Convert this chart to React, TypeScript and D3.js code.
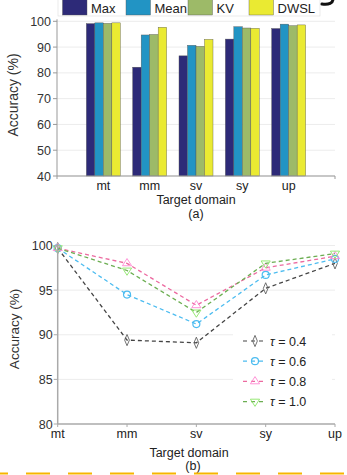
import * as d3 from "d3";
import React, { useRef, useEffect } from "react";

const domains = ["mt", "mm", "sv", "sy", "up"];
const methods = ["Max", "Mean", "KV", "DWSL"];
const methodColors = ["#2d2a78", "#2294c4", "#9dba68", "#eaea32"];
const maxVals = [99.1, 82.2, 86.6, 93.1, 97.2];
const meanVals = [99.4, 94.7, 90.7, 97.9, 98.9];
const kvVals = [99.2, 94.9, 90.3, 97.4, 98.3];
const dwslVals = [99.4, 97.7, 93.0, 97.3, 98.6];
const barTicks = [40, 50, 60, 70, 80, 90, 100];

const tauLabels = ["0.4", "0.6", "0.8", "1.0"];
const tauColors = ["#444444", "#4cbcf0", "#ec6aa0", "#6cae52"];
const tauMarkers = ["diamond", "circle", "up", "down"];
const tau04 = [99.7, 89.4, 89.1, 95.2, 98.0];
const tau06 = [99.7, 94.5, 91.2, 96.7, 98.5];
const tau08 = [99.7, 98.0, 93.3, 97.5, 98.8];
const tau10 = [99.7, 97.2, 92.5, 98.0, 99.1];
const lineTicks = [80, 85, 90, 95, 100];

const FONT = "Liberation Sans, Arial, sans-serif";

function App() {
  const ref = useRef(null);

  useEffect(() => {
    const svg = d3.select(ref.current);
    svg.selectAll("*").remove();
    svg.append("rect").attr("width", 347).attr("height", 475).attr("fill", "#fff");
    drawBars(svg);
    drawLines(svg);

    // bottom orange dashed rule
    svg.append("line")
      .attr("x1", -16).attr("x2", 347).attr("y1", 473.5).attr("y2", 473.5)
      .attr("stroke", "#f7b500").attr("stroke-width", 2)
      .attr("stroke-dasharray", "24 18");
    // tail of a cropped glyph from the title above
    svg.append("path").attr("d", "M333,-1 C333,3 329,5 322,4")
      .attr("fill", "none").attr("stroke", "#111").attr("stroke-width", 3)
      .attr("stroke-linecap", "round");
  }, []);

  const drawBars = (svg) => {
    const left = 57, right = 335, top = 21.3, bottom = 176;
    const x = d3.scalePoint().domain(domains).range([left, right]).padding(1);
    const y = d3.scaleLinear().domain([40, 100]).range([bottom, top]);
    const g = svg.append("g");

    g.selectAll(".grid").data(barTicks).enter().append("line")
      .attr("x1", left).attr("x2", right)
      .attr("y1", (d) => y(d)).attr("y2", (d) => y(d))
      .attr("stroke", "#ececec").attr("stroke-width", 1);

    const series = [maxVals, meanVals, kvVals, dwslVals];
    const bw = 8.5;
    const inner = d3.scaleBand().domain(methods).range([-bw * 2, bw * 2]);
    series.forEach((vals, i) => {
      g.selectAll(".bar" + i).data(vals).enter().append("rect")
        .attr("x", (d, j) => x(domains[j]) + inner(methods[i]))
        .attr("y", (d) => y(d))
        .attr("width", inner.bandwidth())
        .attr("height", (d) => y(40) - y(d))
        .attr("fill", methodColors[i])
        .attr("stroke", "#555").attr("stroke-width", 0.4);
    });

    // axes
    g.append("line").attr("x1", left).attr("x2", left).attr("y1", top - 2).attr("y2", bottom)
      .attr("stroke", "#999");
    g.append("line").attr("x1", left).attr("x2", right).attr("y1", bottom).attr("y2", bottom)
      .attr("stroke", "#999");
    [left, right].forEach((xx) => {
      g.append("line").attr("x1", xx).attr("x2", xx).attr("y1", bottom).attr("y2", bottom + 3)
        .attr("stroke", "#999");
    });
    g.selectAll(".yt").data(barTicks).enter().append("line")
      .attr("x1", left - 4).attr("x2", left)
      .attr("y1", (d) => y(d)).attr("y2", (d) => y(d)).attr("stroke", "#999");
    g.selectAll(".yl").data(barTicks).enter().append("text")
      .attr("x", left - 6).attr("y", (d) => y(d) + 4.5)
      .attr("text-anchor", "end").attr("font-family", FONT).attr("font-size", 12.5)
      .attr("fill", "#333").text((d) => d);
    g.selectAll(".xl").data(domains).enter().append("text")
      .attr("x", (d) => x(d)).attr("y", 189.5)
      .attr("text-anchor", "middle").attr("font-family", FONT).attr("font-size", 12.5)
      .attr("fill", "#222").text((d) => d);
    g.append("text").attr("x", 196).attr("y", 204).attr("text-anchor", "middle")
      .attr("font-family", FONT).attr("font-size", 12.5).attr("fill", "#222").text("Target domain");
    g.append("text").attr("x", 196).attr("y", 217.5).attr("text-anchor", "middle")
      .attr("font-family", FONT).attr("font-size", 12.5).attr("fill", "#222").text("(a)");
    g.append("text").attr("transform", "translate(18,95)rotate(-90)").attr("text-anchor", "middle")
      .attr("font-family", FONT).attr("font-size", 14).attr("fill", "#333").text("Accuracy (%)");

    // legend
    const lx = [62.5, 126, 188, 249];
    const lg = g.append("g");
    lg.append("rect").attr("x", 58).attr("y", -6).attr("width", 262).attr("height", 22)
      .attr("fill", "#fff").attr("stroke", "#ddd").attr("stroke-width", 0.6);
    methods.forEach((m, i) => {
      lg.append("rect").attr("x", lx[i]).attr("y", -1).attr("width", 24.5).attr("height", 16)
        .attr("fill", methodColors[i]).attr("stroke", "#555").attr("stroke-width", 0.4);
      lg.append("text").attr("x", lx[i] + 28.5).attr("y", 12.7)
        .attr("font-family", FONT).attr("font-size", 13).attr("fill", "#222").text(m);
    });
  };

  const marker = (sel, type, cx, cy, color) => {
    if (type === "circle") {
      sel.append("circle").attr("cx", cx).attr("cy", cy).attr("r", 3.5)
        .attr("fill", "none").attr("stroke", color).attr("stroke-width", 1.2);
    } else {
      const sym = type === "diamond" ? d3.symbolDiamond : d3.symbolTriangle;
      const rot = type === "down" ? 180 : 0;
      sel.append("path").attr("d", d3.symbol().type(sym).size(30)())
        .attr("transform", `translate(${cx},${cy})rotate(${rot})scale(${type === "diamond" ? "0.8,1.1" : "1.1,1"})`)
        .attr("fill", "none").attr("stroke", d3.color(color).brighter(0.8)).attr("stroke-width", 0.9);
    }
  };

  const drawLines = (svg) => {
    const left = 57.7, right = 335, top = 245.5, bottom = 424;
    const x = d3.scalePoint().domain(domains).range([left, right]);
    const y = d3.scaleLinear().domain([80, 100]).range([bottom, top]);
    const g = svg.append("g");

    g.selectAll(".grid").data(lineTicks.filter((t) => t > 80)).enter().append("line")
      .attr("x1", left).attr("x2", right)
      .attr("y1", (d) => y(d)).attr("y2", (d) => y(d))
      .attr("stroke", "#ececec").attr("stroke-width", 1);

    const series = [tau04, tau06, tau08, tau10];
    const line = d3.line().x((d, j) => x(domains[j])).y((d) => y(d));
    series.forEach((vals, i) => {
      g.append("path").attr("d", line(vals)).attr("fill", "none")
        .attr("stroke", tauColors[i]).attr("stroke-width", 1.3)
        .attr("stroke-dasharray", "4 3");
      vals.forEach((v, j) => marker(g, tauMarkers[i], x(domains[j]), y(v), tauColors[i]));
    });

    // legend
    const lg = g.append("g");
    lg.append("rect").attr("x", 233).attr("y", 327).attr("width", 99).attr("height", 85).attr("fill", "#fff");
    tauLabels.forEach((t, i) => {
      const yy = 341 + i * 20.2;
      lg.append("line").attr("x1", 243).attr("x2", 266).attr("y1", yy).attr("y2", yy)
        .attr("stroke", tauColors[i]).attr("stroke-width", 1.2).attr("stroke-dasharray", "4 4");
      marker(lg, tauMarkers[i], 255, yy, tauColors[i]);
      const tx = lg.append("text").attr("x", 270).attr("y", yy + 4.5)
        .attr("font-family", FONT).attr("font-size", 12.5).attr("fill", "#222");
      tx.append("tspan").attr("font-style", "italic").text("τ");
      tx.append("tspan").text(" = " + t);
    });

    // axes
    g.append("line").attr("x1", left).attr("x2", left).attr("y1", top - 2).attr("y2", bottom)
      .attr("stroke", "#aaa").attr("stroke-width", 1.5);
    g.append("line").attr("x1", left).attr("x2", right).attr("y1", bottom).attr("y2", bottom)
      .attr("stroke", "#aaa").attr("stroke-width", 1.5);
    g.selectAll(".xt").data(domains).enter().append("line")
      .attr("x1", (d) => x(d)).attr("x2", (d) => x(d)).attr("y1", bottom).attr("y2", bottom + 3)
      .attr("stroke", "#aaa");
    g.selectAll(".yt").data(lineTicks).enter().append("line")
      .attr("x1", left - 4).attr("x2", left)
      .attr("y1", (d) => y(d)).attr("y2", (d) => y(d)).attr("stroke", "#aaa");
    g.selectAll(".yl").data(lineTicks).enter().append("text")
      .attr("x", left - 5).attr("y", (d) => y(d) + 4.5)
      .attr("text-anchor", "end").attr("font-family", FONT).attr("font-size", 12.5)
      .attr("fill", "#333").text((d) => d);
    g.selectAll(".xl").data(domains).enter().append("text")
      .attr("x", (d) => x(d)).attr("y", 438)
      .attr("text-anchor", "middle").attr("font-family", FONT).attr("font-size", 12.5)
      .attr("fill", "#222").text((d) => d);
    g.append("text").attr("x", 189).attr("y", 456.5).attr("text-anchor", "middle")
      .attr("font-family", FONT).attr("font-size", 12.5).attr("fill", "#222").text("Target domain");
    g.append("text").attr("x", 193).attr("y", 470).attr("text-anchor", "middle")
      .attr("font-family", FONT).attr("font-size", 12.5).attr("fill", "#222").text("(b)");
    g.append("text").attr("transform", "translate(19,329)rotate(-90)").attr("text-anchor", "middle")
      .attr("font-family", FONT).attr("font-size", 13.5).attr("fill", "#333").text("Accuracy (%)");
  };

  return (
    <div style={{ position: "absolute", left: 0, top: 0 }}>
      <svg ref={ref} width={347} height={475} style={{ display: "block" }}></svg>
    </div>
  );
}

export default App;
